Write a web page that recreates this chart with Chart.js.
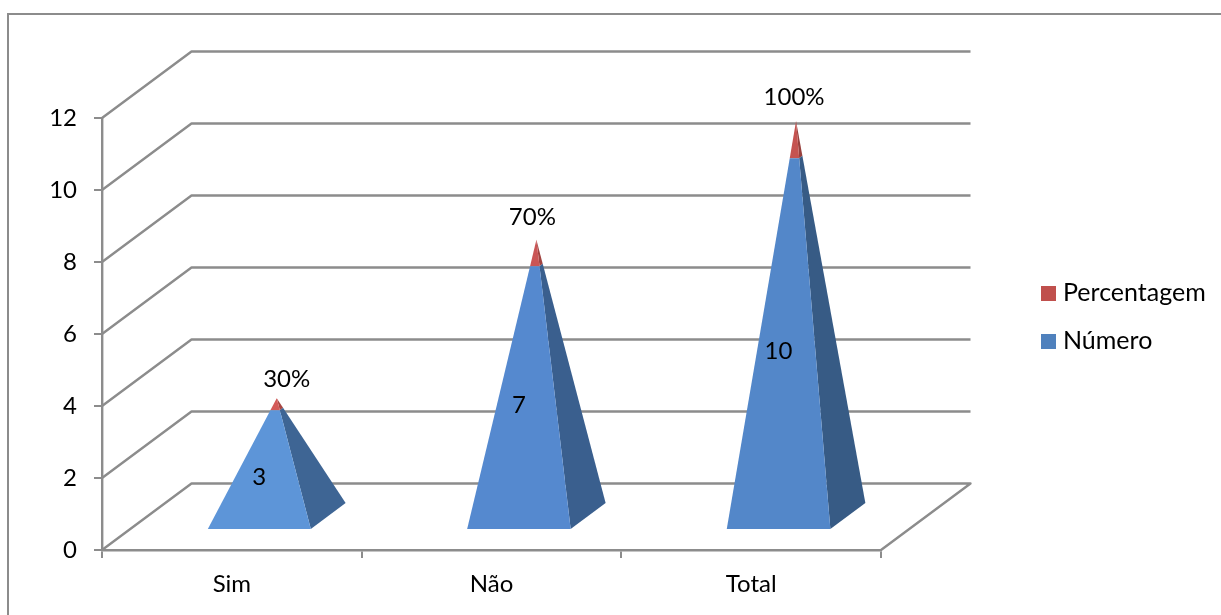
<!DOCTYPE html>
<html lang="pt">
<head>
<meta charset="utf-8">
<title>Sim / Não / Total</title>
<style>
  html, body { margin: 0; padding: 0; background: #fff; overflow: hidden; }
  #wrap { position: absolute; left: 0; top: 0; width: 1221px; height: 615px; }
</style>
<script src="https://cdn.jsdelivr.net/npm/chart.js@4/dist/chart.umd.min.js"></script>
</head>
<body>
<div id="wrap"><canvas id="chart" width="1221" height="615"></canvas></div>
<script>
// Chart values
const categories = ['Sim', 'Não', 'Total'];
const numero = [3, 7, 10];
const percentagem = [0.3, 0.7, 1];
const percentLabels = ['30%', '70%', '100%'];

// Presentation
const FONT = { family: 'Lato, Carlito, sans-serif', size: 24 };
const LEGEND_FONT_SIZE = 25;
const AXIS_GREY = '#8c8c8c';
const WALL = { dx: 89.5, dy: -66.5 };           // oblique offset of the back wall
const SLOT = { front: 0.3, back: 0.692, shift: 0.5 }; // pyramid footprint along the depth
// Face shading per column, so the lighting differs a little from pyramid to pyramid
const FACES = {
  'Número': { front: ['#5d95d8', '#5589cf', '#5387c9'], side: ['#3e6594', '#3a5f8e', '#375b85'] },
  'Percentagem': { front: ['#d45a58', '#ca5555', '#c55350'], side: ['#a84643', '#a04340', '#98403d'] }
};
// Hand placement of the percentage labels, relative to each apex
const percentNudge = [[10, -19], [-4, -23], [-2, -24]];

// Moves a point on the front plane back along the oblique depth axis
const project = (x, y, depth) => ({ x: x + WALL.dx * depth, y: y + WALL.dy * depth });
const along = (a, b, t) => ({ x: a.x + (b.x - a.x) * t, y: a.y + (b.y - a.y) * t });

function polygon(ctx, pts, fill) {
  ctx.beginPath();
  pts.forEach((p, i) => (i ? ctx.lineTo(p.x, p.y) : ctx.moveTo(p.x, p.y)));
  ctx.closePath();
  ctx.fillStyle = fill;
  ctx.fill();
}

// Footprint and apex of the pyramid standing on category i
function pyramidFrame(chart, i) {
  const bar = chart.getDatasetMeta(0).data[i];
  const floor = chart.scales.y.getPixelForValue(0);
  const topBar = chart.getDatasetMeta(chart.data.datasets.length - 1).data[i];
  const half = bar.width / 2;
  const cx = bar.x + SLOT.shift;
  const fl = project(cx - half, floor, SLOT.front);
  const fr = project(cx + half, floor, SLOT.front);
  const br = project(cx + half, floor, SLOT.back);
  const apex = project(cx, topBar.y, (SLOT.front + SLOT.back) / 2);
  return { floor, top: topBar.y, fl, fr, br, apex, frontX: (fl.x + fr.x) / 2 };
}

const pyramidPlugin = {
  id: 'pyramids',

  // Outer frame, gridlines on the walls and the floor outline
  beforeDatasetsDraw(chart) {
    const { ctx, chartArea: area, scales: { y } } = chart;
    ctx.save();
    ctx.strokeStyle = AXIS_GREY;
    ctx.lineWidth = 2;
    ctx.beginPath();
    ctx.moveTo(8, chart.height + 4);
    ctx.lineTo(8, 14);
    ctx.lineTo(chart.width + 4, 14);
    ctx.stroke();

    ctx.lineWidth = 2.4;
    ctx.lineJoin = 'round';
    y.ticks.forEach(t => {
      const py = Math.round(y.getPixelForValue(t.value));
      const back = project(area.left, py, 1);
      ctx.beginPath();
      ctx.moveTo(area.left, py);
      ctx.lineTo(back.x, back.y);
      ctx.lineTo(project(area.right, py, 1).x, back.y);
      if (t.value === 0) ctx.lineTo(area.right, py);
      ctx.stroke();
    });
    ctx.restore();
  },

  // Each stacked segment is painted as a slice of one pyramid
  beforeDatasetDraw(chart, args) {
    const { ctx } = chart;
    const meta = args.meta;
    const faces = FACES[meta.label];
    meta.data.forEach((el, i) => {
      const f = pyramidFrame(chart, i);
      const t0 = (f.floor - el.base) / (f.floor - f.top);
      const t1 = (f.floor - el.y) / (f.floor - f.top);
      const slice = (a, b) => [along(a, f.apex, t0), along(b, f.apex, t0), along(b, f.apex, t1), along(a, f.apex, t1)];
      polygon(ctx, slice(f.fr, f.br), faces.side[i]);
      polygon(ctx, slice(f.fl, f.fr), faces.front[i]);
    });
    return false;
  },

  // Value labels and the legend
  afterDatasetsDraw(chart) {
    const { ctx, scales: { y } } = chart;
    ctx.save();
    ctx.font = `${FONT.size}px ${FONT.family}`;
    ctx.fillStyle = '#000';
    ctx.textAlign = 'center';
    ctx.textBaseline = 'middle';
    numero.forEach((v, i) => {
      const f = pyramidFrame(chart, i);
      const mid = project(f.frontX, y.getPixelForValue(v / 2), SLOT.front);
      ctx.fillText(String(v), f.frontX, mid.y + 1);
      const n = percentNudge[i];
      ctx.fillText(percentLabels[i], f.apex.x + n[0], f.apex.y + n[1]);
    });

    ctx.font = `${LEGEND_FONT_SIZE}px ${FONT.family}`;
    ctx.textAlign = 'left';
    [...chart.data.datasets].reverse().forEach((ds, i) => {
      const top = 286 + i * 48;
      ctx.fillStyle = ds.backgroundColor;
      ctx.fillRect(1041, top, 15, 15);
      ctx.fillStyle = '#000';
      ctx.fillText(ds.label, 1063, top + 7);
    });
    ctx.restore();
  }
};

new Chart(document.getElementById('chart'), {
  type: 'bar',
  plugins: [pyramidPlugin],
  data: {
    labels: categories,
    datasets: [
      { label: 'Número', data: numero, backgroundColor: '#4f81bd', barPercentage: 0.4, categoryPercentage: 1 },
      { label: 'Percentagem', data: percentagem, backgroundColor: '#c0504d', barPercentage: 0.4, categoryPercentage: 1 }
    ]
  },
  options: {
    responsive: false,
    animation: false,
    layout: { padding: { top: 118, right: 340, left: 0, bottom: 0 } },
    plugins: { legend: { display: false }, tooltip: { enabled: false }, title: { display: false } },
    scales: {
      x: {
        stacked: true,
        afterFit: s => { s.height = 65; },
        grid: { drawOnChartArea: false, color: AXIS_GREY, lineWidth: 2, tickLength: 8 },
        border: { color: AXIS_GREY, width: 2.4 },
        ticks: { color: '#000', font: FONT, padding: 12, maxRotation: 0 }
      },
      y: {
        stacked: true,
        min: 0,
        max: 12,
        afterFit: s => { s.width = 102; },
        grid: { drawOnChartArea: false, color: AXIS_GREY, lineWidth: 2, tickLength: 8 },
        border: { color: AXIS_GREY, width: 2.4 },
        ticks: { color: '#000', font: FONT, padding: 17, stepSize: 2 }
      }
    }
  }
});
</script>
</body>
</html>
